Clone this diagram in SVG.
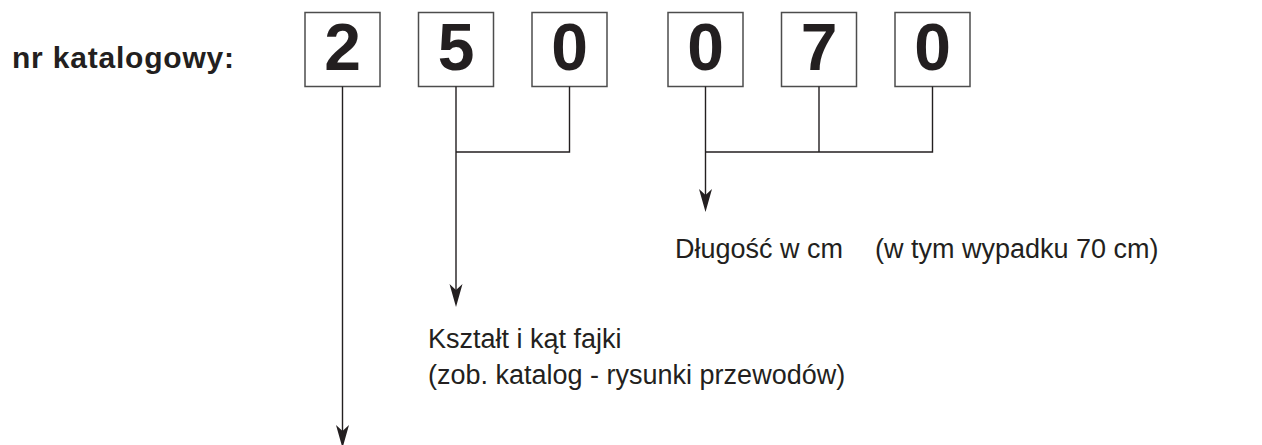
<svg xmlns="http://www.w3.org/2000/svg" width="1262" height="445" viewBox="0 0 1262 445">
<style>
.box{fill:#fff;stroke:#4d4d4d;stroke-width:1.5}
.dig{font-family:"Liberation Sans",Arial,sans-serif;font-weight:bold;font-size:66px;fill:#231f20;text-anchor:middle}
.lbl{font-family:"Liberation Sans",Arial,sans-serif;font-size:27px;fill:#231f20}
.ttl{font-family:"Liberation Sans",Arial,sans-serif;font-weight:bold;font-size:30px;fill:#231f20}
.ln{fill:none;stroke:#231f20;stroke-width:1.4}
.ah{fill:#231f20;stroke:none}
</style>
<rect width="1262" height="445" fill="#fff"/>
<g id="title"><text class="ttl" x="12" y="68" textLength="222" lengthAdjust="spacing">nr katalogowy:</text></g>
<g id="d1"><rect class="box" x="305" y="12.5" width="75" height="74"/><text class="dig" x="342.5" y="70">2</text></g>
<g id="d2"><rect class="box" x="418.5" y="12.5" width="75" height="74"/><text class="dig" x="456" y="70">5</text></g>
<g id="d3"><rect class="box" x="532" y="12.5" width="75" height="74"/><text class="dig" x="569.5" y="70">0</text></g>
<g id="d4"><rect class="box" x="668" y="12.5" width="75" height="74"/><text class="dig" x="705.5" y="70">0</text></g>
<g id="d5"><rect class="box" x="781.5" y="12.5" width="75" height="74"/><text class="dig" x="819" y="70">7</text></g>
<g id="d6"><rect class="box" x="895" y="12.5" width="75" height="74"/><text class="dig" x="932.5" y="70">0</text></g>
<g id="l1"><text class="lbl" x="675" y="258">Długość w cm</text><text class="lbl" x="875" y="258">(w tym wypadku 70 cm)</text></g>
<g id="l2"><text class="lbl" x="428" y="348">Kształt i kąt fajki</text><text class="lbl" x="428" y="384">(zob. katalog - rysunki przewodów)</text></g>
<g id="connectors">
<path class="ln" d="M342.5 86.5V432"/>
<path class="ah" d="M342.5 448L336 425L342.5 431L349 425Z"/>
<path class="ln" d="M456 86.5V290M456 152H569.5V86.5"/>
<path class="ah" d="M456 307L449.5 284L456 290L462.5 284Z"/>
<path class="ln" d="M705.5 86.5V195M705.5 152H932.5V86.5M819 86.5V152"/>
<path class="ah" d="M705.5 212L699 189L705.5 195L712 189Z"/>
</g>
</svg>
